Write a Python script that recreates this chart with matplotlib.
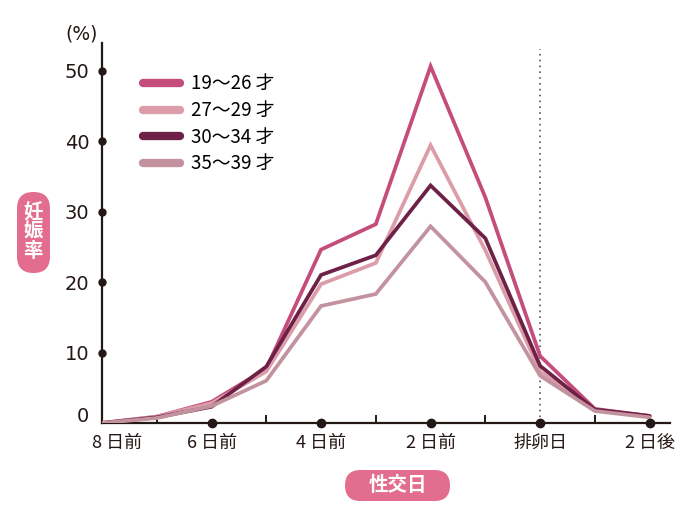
import matplotlib
matplotlib.use("Agg")
import matplotlib.pyplot as plt
import matplotlib.patches as mpatches
import matplotlib.transforms as mtransforms

plt.rcParams['font.family'] = ['DejaVu Sans', 'Noto Sans CJK JP']

# 性交日 (排卵日 = 0)
days = [-8, -7, -6, -5, -4, -3, -2, -1, 0, 1, 2]
tick_days = [-8, -6, -4, -2, 0, 2]
tick_names = ['8 日前', '6 日前', '4 日前', '2 日前', '排卵日', '2 日後']
minor_days = [-7, -5, -3, -1, 1]
y_ticks = [0, 10, 20, 30, 40, 50]

# 妊娠率 (%)
r19_26 = [0, 0.9, 3.0, 7.7, 24.6, 28.2, 50.6, 32.0, 9.5, 2.0, 1.0]
r27_29 = [0, 0.9, 2.8, 7.3, 19.7, 22.7, 39.4, 24.5, 7.3, 1.8, 0.9]
r30_34 = [0, 0.8, 2.3, 8.0, 21.0, 23.8, 33.7, 26.2, 8.1, 1.9, 1.0]
r35_39 = [0, 0.7, 2.4, 6.0, 16.6, 18.3, 27.9, 20.0, 6.7, 1.7, 0.8]

labels = ['19〜26 才', '27〜29 才', '30〜34 才', '35〜39 才']
colors = ['#c44d7c', '#dc9ca9', '#6e2147', '#c2929f']
axis_col = '#231815'
pill_col = '#e26d8e'

fig = plt.figure(figsize=(7, 5.25), dpi=100)
ax = fig.add_axes([0.1457, 0.1943, 0.957 - 0.1457, 0.918 - 0.1943])

series = [r19_26, r27_29, r30_34, r35_39]
order = [3, 1, 0, 2]
handles = [None] * 4
for i in order:
    ln, = ax.plot(days, series[i], color=colors[i], lw=2.7, label=labels[i],
                  solid_capstyle='round', solid_joinstyle='miter', zorder=3 + i)
    handles[i] = ln

ax.set_xlim(-8, 2.37)
ax.set_ylim(0, 53.9)

for s in ['top', 'right']:
    ax.spines[s].set_visible(False)
for s in ['left', 'bottom']:
    ax.spines[s].set_color(axis_col)
    ax.spines[s].set_linewidth(1.6)

ax.set_yticks(y_ticks)
ax.set_yticklabels([str(v) for v in y_ticks], fontsize=14, color=axis_col)
ax.tick_params(axis='y', length=0, pad=9)

ax.set_xticks(tick_days)
ax.set_xticklabels(tick_names, fontsize=13, color=axis_col,
                   family=['Noto Sans CJK JP'])
ax.set_xticks(minor_days, minor=True)
ax.tick_params(axis='x', which='major', length=0, pad=8)
ax.tick_params(axis='x', which='minor', direction='in', length=6, width=1.4,
               color=axis_col)

# nudge the "0" and "8 日前" labels like the original layout
ylab0 = ax.get_yticklabels()[0]
ylab0.set_transform(ylab0.get_transform() +
                    mtransforms.ScaledTranslation(0, 8 / 100, fig.dpi_scale_trans))
xlab0 = ax.get_xticklabels()[0]
xlab0.set_transform(xlab0.get_transform() +
                    mtransforms.ScaledTranslation(15 / 100, 0, fig.dpi_scale_trans))

# dot markers on the axes
ydots = [v for v in y_ticks if v > 0]
ax.plot([0] * len(ydots), ydots, 'o', color=axis_col, ms=5,
        transform=ax.get_yaxis_transform(), clip_on=False, zorder=10)
xdots = [d for d in tick_days if d > -8]
ax.plot(xdots, [0] * len(xdots), 'o', color=axis_col, ms=6,
        transform=ax.get_xaxis_transform(), clip_on=False, zorder=10)

# ovulation day
ax.axvline(0, ymax=0.985, color='#555555', ls=(0, (1, 2.5)), lw=1.2, zorder=2)

ax.text(-0.008, 1.0, '(%)', transform=ax.transAxes, ha='right', va='bottom',
        fontsize=13.5, color=axis_col)

leg = ax.legend(handles=handles, loc='upper left', bbox_to_anchor=(0.072, 0.92),
                frameon=False, handlelength=2.0, handletextpad=0.55,
                labelspacing=0.3, borderaxespad=0, borderpad=0,
                prop={'family': ['Liberation Sans Narrow', 'Noto Sans CJK JP'],
                      'size': 13.5})
for h in leg.get_lines():
    h.set_linewidth(6)
    h.set_solid_capstyle('round')

# pill-shaped axis titles (pixel coordinates)
ident = mtransforms.IdentityTransform()
fig.patches.append(mpatches.FancyBboxPatch(
    (17, 525 - 273), 33, 81, boxstyle='round,pad=0,rounding_size=16.5',
    fc=pill_col, ec='none', transform=ident, figure=fig))
fig.patches.append(mpatches.FancyBboxPatch(
    (345, 525 - 501), 105, 31, boxstyle='round,pad=0,rounding_size=15.5',
    fc=pill_col, ec='none', transform=ident, figure=fig))

fig.text(33.5 / 700, 1 - 232 / 525, '妊\n娠\n率', ha='center', va='center',
         color='white', fontsize=14, fontweight='bold', linespacing=1.0,
         family=['Noto Sans CJK JP'])
fig.text(397.5 / 700, 1 - 485.5 / 525, '性交日', ha='center', va='center',
         color='white', fontsize=14, fontweight='bold',
         family=['Noto Sans CJK JP'])

fig.savefig('out.png', dpi=100)
